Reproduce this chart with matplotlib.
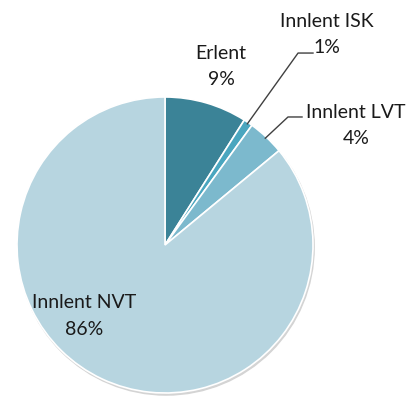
import numpy as np
import matplotlib
matplotlib.use('Agg')
import matplotlib.pyplot as plt
from matplotlib.patches import Circle

# gögn
categories = ['Erlent', 'Innlent ISK', 'Innlent LVT', 'Innlent NVT']
values = [9, 1, 4, 86]
colors = ['#3b8397', '#4aa6bf', '#7cb9cd', '#b7d5e0']

plt.rcParams['font.family'] = ['Lato', 'DejaVu Sans']

fig = plt.figure(figsize=(4.16, 4.01), dpi=100)
W, H = 416, 401
cx, cy, r = 165, 245, 148
ax = fig.add_axes([(cx - r) / W, (H - cy - r) / H, 2 * r / W, 2 * r / H])

# skuggi
ax.add_patch(Circle((0.008, -0.014), 1.0, color='#d4d4d4', zorder=0, clip_on=False))

wedges, _ = ax.pie(values, colors=colors, startangle=90, counterclock=False,
                   radius=1.0, wedgeprops=dict(edgecolor='white', linewidth=1.2))
for w in wedges:
    w.set_zorder(2)
    w.set_clip_on(False)

ax.set_xlim(-1, 1)
ax.set_ylim(-1, 1)
ax.set_aspect('equal')
ax.axis('off')

tc = '#1a1a1a'
fs = 14
# textastaðir (x, y) í ásahnitum
text_pos = [(0.378, 1.205), (1.095, 1.42), (1.29, 0.81), (-0.547, -0.48)]
leader_end = [None, (0.899, 1.297), (0.831, 0.865), None]
leader_tail = [None, 1.0, 0.926, None]

for i, w in enumerate(wedges):
    lbl = '%s\n%d%%' % (categories[i], values[i])
    tx, ty = text_pos[i]
    ax.text(tx, ty, lbl, ha='center', va='center', fontsize=fs, color=tc,
            linespacing=1.65, zorder=5, clip_on=False)
    if leader_end[i] is not None:
        ang = np.deg2rad((w.theta1 + w.theta2) / 2)
        x0, y0 = np.cos(ang) * 0.99, np.sin(ang) * 0.99
        ex, ey = leader_end[i]
        ax.plot([x0, ex, leader_tail[i]], [y0, ey, ey], color='#404040',
                lw=1.0, zorder=4, clip_on=False)

fig.savefig('out.png', dpi=100)
